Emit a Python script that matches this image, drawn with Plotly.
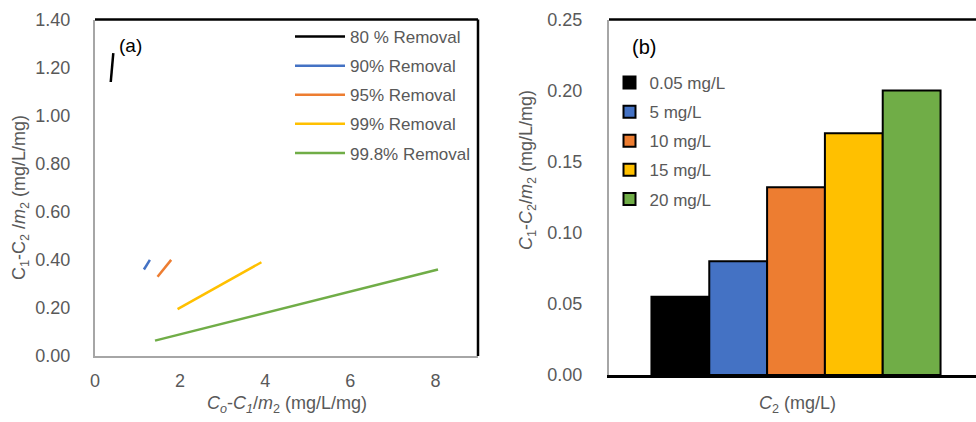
import plotly.graph_objects as go

# ---- Panel (a) data ----
series_names = ["80 % Removal", "90% Removal", "95% Removal", "99% Removal", "99.8% Removal"]
series_colors = ["#000000", "#4472C4", "#ED7D31", "#FFC000", "#70AD47"]
x_80 = [0.37, 0.43]
y_80 = [1.14, 1.26]
x_90 = [1.15, 1.29]
y_90 = [0.36, 0.40]
x_95 = [1.47, 1.79]
y_95 = [0.33, 0.40]
x_99 = [1.94, 3.91]
y_99 = [0.195, 0.39]
x_998 = [1.41, 8.06]
y_998 = [0.064, 0.36]
xs_a = [x_80, x_90, x_95, x_99, x_998]
ys_a = [y_80, y_90, y_95, y_99, y_998]
yticks_a = [0.0, 0.2, 0.4, 0.6, 0.8, 1.0, 1.2, 1.4]
xticks_a = [0, 2, 4, 6, 8]

# ---- Panel (b) data ----
bar_names = ["0.05 mg/L", "5 mg/L", "10 mg/L", "15 mg/L", "20 mg/L"]
bar_values = [0.055, 0.080, 0.132, 0.170, 0.200]
bar_colors = ["#000000", "#4472C4", "#ED7D31", "#FFC000", "#70AD47"]
yticks_b = [0.0, 0.05, 0.10, 0.15, 0.20, 0.25]

W, H = 976, 422
FONT = "Liberation Sans, Arial, sans-serif"
GREY = "#595959"
TICK = 18
LEG = 17
TITLE = 18

def px(x):
    return x / W

def py(y):
    return 1 - y / H

fig = go.Figure()

for i, (nm, c) in enumerate(zip(series_names, series_colors)):
    fig.add_trace(go.Scatter(
        x=xs_a[i], y=ys_a[i], mode="lines", name=nm,
        line=dict(color=c, width=2.5), xaxis="x", yaxis="y",
        legend="legend", legendgroup="a%d" % i, showlegend=True))

for i, (nm, c) in enumerate(zip(bar_names, bar_colors)):
    fig.add_trace(go.Bar(
        x=[""], y=[bar_values[i]], name=nm,
        marker=dict(color=c, line=dict(color="#000000", width=2)),
        xaxis="x2", yaxis="y2", legend="legend2", legendgroup="b%d" % i))

fig.update_layout(
    template="none",
    width=W, height=H,
    margin=dict(l=0, r=0, t=0, b=0, pad=0, autoexpand=False),
    paper_bgcolor="white", plot_bgcolor="white",
    font=dict(family=FONT, color=GREY, size=16),
    barmode="group", bargap=0.227, bargroupgap=0,
    xaxis=dict(domain=[px(95), px(478)], range=[0, 9], tickvals=xticks_a,
               ticktext=[str(v) for v in xticks_a], showgrid=False, zeroline=False,
               showline=True, linecolor="#A6A6A6", linewidth=2, ticks="",
               ticklabelstandoff=7, tickfont=dict(size=TICK, color=GREY),
               anchor="y", fixedrange=True, automargin=False),
    yaxis=dict(domain=[py(356), py(19.5)], range=[0, 1.4], tickvals=yticks_a,
               ticktext=["%.2f" % v for v in yticks_a], showgrid=False, zeroline=False,
               showline=True, linecolor="#A6A6A6", linewidth=2, ticks="",
               ticklabelstandoff=19, tickfont=dict(size=TICK, color=GREY),
               anchor="x", fixedrange=True, automargin=False),
    xaxis2=dict(domain=[px(609), 1.0], range=[-0.5, 0.4813], type="category",
                showticklabels=False, showgrid=False, zeroline=False,
                showline=True, linecolor="#000000", linewidth=2.5, ticks="",
                anchor="y2", fixedrange=True, automargin=False),
    yaxis2=dict(domain=[py(375), py(19.5)], range=[0, 0.25], tickvals=yticks_b,
                ticktext=["%.2f" % v for v in yticks_b], showgrid=False, zeroline=False,
                showline=True, linecolor="#A6A6A6", linewidth=2, ticks="",
                ticklabelstandoff=21, tickfont=dict(size=TICK, color=GREY),
                anchor="x2", fixedrange=True, automargin=False),
    legend=dict(x=px(290), y=py(19), xanchor="left", yanchor="top",
                bgcolor="rgba(0,0,0,0)", font=dict(size=LEG, color=GREY),
                itemwidth=50, tracegroupgap=4, traceorder="grouped"),
    legend2=dict(x=px(609.5), y=py(65), xanchor="left", yanchor="top",
                 bgcolor="rgba(0,0,0,0)", font=dict(size=LEG, color=GREY),
                 itemwidth=30, tracegroupgap=4, traceorder="grouped"),
    shapes=[
        dict(type="line", xref="x domain", yref="y domain", x0=0, x1=1, y0=1, y1=1,
             line=dict(color="black", width=2.5)),
        dict(type="line", xref="x domain", yref="y domain", x0=1, x1=1, y0=0, y1=1,
             line=dict(color="black", width=2.5)),
        dict(type="line", xref="x2 domain", yref="y2 domain", x0=0, x1=1, y0=1, y1=1,
             line=dict(color="black", width=2.5)),
    ],
    annotations=[
        dict(text="(a)", x=px(117), y=py(45), xref="paper", yref="paper",
             xanchor="left", yanchor="middle", showarrow=False,
             font=dict(size=19, color="black")),
        dict(text="(b)", x=px(630), y=py(47), xref="paper", yref="paper",
             xanchor="left", yanchor="middle", showarrow=False,
             font=dict(size=20, color="black")),
        dict(text="C<sub>1</sub>-C<sub>2</sub> /<i>m</i><sub>2</sub> (mg/L/mg)",
             x=px(20), y=py(198), xref="paper", yref="paper", textangle=-90,
             xanchor="center", yanchor="middle", showarrow=False,
             font=dict(size=TITLE, color=GREY)),
        dict(text="<i>C</i><sub><i>o</i></sub>-<i>C</i><sub><i>1</i></sub>/<i>m</i><sub>2</sub> (mg/L/mg)",
             x=px(287), y=py(404), xref="paper", yref="paper",
             xanchor="center", yanchor="middle", showarrow=False,
             font=dict(size=TITLE, color=GREY)),
        dict(text="<i>C</i><sub>1</sub>-<i>C</i><sub>2</sub>/<i>m</i><sub>2</sub> (mg/L/mg)",
             x=px(527), y=py(170), xref="paper", yref="paper", textangle=-90,
             xanchor="center", yanchor="middle", showarrow=False,
             font=dict(size=TITLE, color=GREY)),
        dict(text="<i>C</i><sub>2</sub> (mg/L)",
             x=px(797), y=py(404), xref="paper", yref="paper",
             xanchor="center", yanchor="middle", showarrow=False,
             font=dict(size=TITLE, color=GREY)),
    ],
)

fig.write_html("out.html", config={"responsive": False})
